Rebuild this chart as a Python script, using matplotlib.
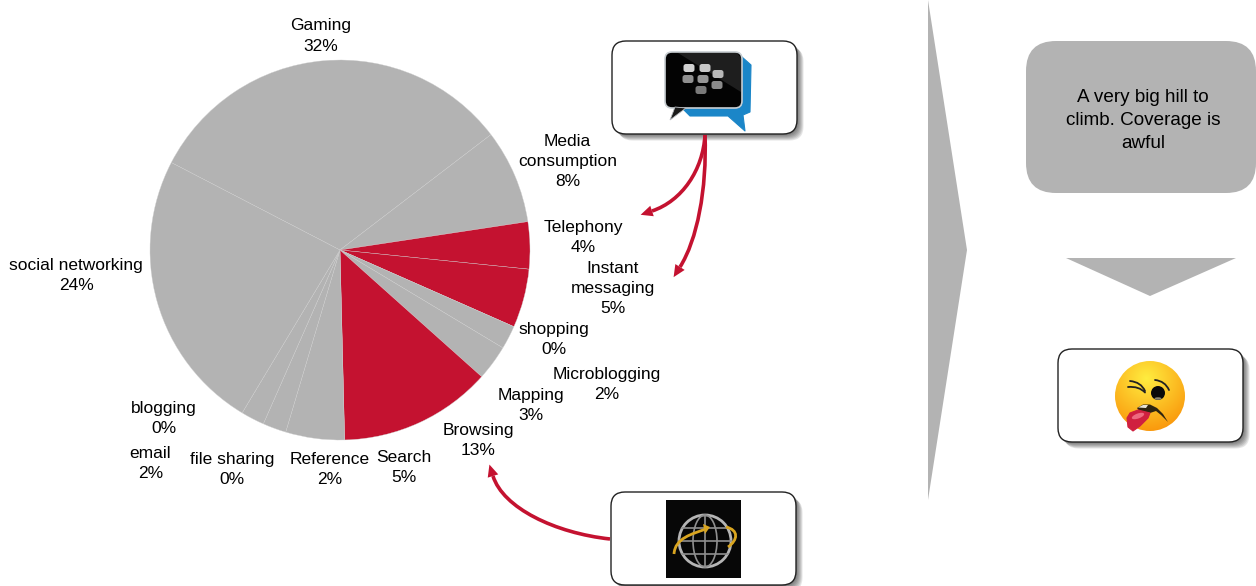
import numpy as np
import matplotlib
matplotlib.use("Agg")
import matplotlib.pyplot as plt
from matplotlib.patches import FancyBboxPatch, Polygon, Circle, Ellipse, PathPatch
from matplotlib.path import Path

plt.rcParams["font.family"] = ["Liberation Sans", "DejaVu Sans"]

GREY = "#b3b3b3"
RED = "#c41230"

# slices run clockwise, Gaming first
categories = ["Gaming", "Media\nconsumption", "Telephony", "Instant\nmessaging", "shopping",
              "Microblogging", "Mapping", "Browsing", "Search", "Reference", "file sharing",
              "email", "blogging", "social networking"]
shares = [32, 8, 4, 5, 0, 2, 3, 13, 5, 2, 0, 2, 0, 24]
highlighted = ["Telephony", "Instant\nmessaging", "Browsing"]

label_xy = [(321, 36), (567.5, 161.5), (583, 237.5), (613, 288.5), (554, 339.5), (607, 384.5), (531, 405.5),
            (478, 440.5), (404, 467.5), (330, 469.5), (232, 469.5), (150.5, 463.5), (163.5, 418.5), (76, 275.5)]

W, H = 1256, 586
fig = plt.figure(figsize=(W / 100, H / 100), dpi=100)

# pie on its own square axes, the rest on a pixel-sized overlay
cx, cy, r = 340, 250, 190
pie_ax = fig.add_axes([(cx - r) / W, 1 - (cy + r) / H, 2 * r / W, 2 * r / H])
colors = [RED if c in highlighted else GREY for c in categories]
pie_ax.pie(shares, colors=colors, startangle=152.6, counterclock=False, radius=1,
           wedgeprops=dict(edgecolor="#cfcfcf", linewidth=0.25))
pie_ax.set_xlim(-1, 1)
pie_ax.set_ylim(-1, 1)

ax = fig.add_axes([0, 0, 1, 1], facecolor="none")
ax.set_xlim(0, W)
ax.set_ylim(H, 0)
ax.axis("off")

for cat, val, (x, y) in zip(categories, shares, label_xy):
    ax.text(x, y, f"{cat}\n{val}%", ha="center", va="center", fontsize=12.5, color="black",
            linespacing=1.43)


def card(x0, y0, x1, y1):
    # soft shadow first, then the white box
    for i in range(7):
        off = 0.5 + i
        ax.add_patch(FancyBboxPatch((x0 + off, y0 + off), x1 - x0, y1 - y0,
                                    boxstyle="round,pad=0,rounding_size=14", fc="#222222", ec="none",
                                    alpha=0.12, zorder=2))
    ax.add_patch(FancyBboxPatch((x0, y0), x1 - x0, y1 - y0, boxstyle="round,pad=0,rounding_size=14",
                                fc="white", ec="#222222", lw=1.0, zorder=3))


card(612, 41, 797, 134)
card(611, 492, 796, 585)
card(1058, 349, 1243, 442)

# right-hand column
ax.add_patch(Polygon([(928, 0), (967, 250), (928, 500)], fc=GREY, ec="none"))
ax.add_patch(Polygon([(1066, 258), (1236, 258), (1150, 296)], fc=GREY, ec="none"))
ax.add_patch(FancyBboxPatch((1026, 41), 230, 152, boxstyle="round,pad=0,rounding_size=30", fc=GREY,
                            ec="none", clip_on=False))
ax.text(1143, 120.5, "A very big hill to\nclimb. Coverage is\nawful", ha="center", va="center",
        fontsize=13.6, color="black", linespacing=1.43)

# messenger icon
blue = [(680, 106), (690, 116), (728, 116), (745, 131), (743, 115), (750, 112), (751, 65), (742, 57)]
ax.add_patch(Polygon(blue, fc="#1b86c8", ec="#1b86c8", lw=0.8, joinstyle="round", zorder=4))
ax.add_patch(FancyBboxPatch((665, 52), 77, 56, boxstyle="round,pad=0,rounding_size=7", fc="#030303",
                            ec="#c8ced2", lw=1.2, zorder=5))
ax.add_patch(Polygon([(675, 107), (670, 120), (686, 108)], fc="#1a1a1a", ec="#b8bcc0", lw=0.6, zorder=5))
ax.add_patch(Polygon([(678, 53), (737, 53), (741, 58), (741, 92)], fc="#1e1e1e", ec="none", zorder=5))
for x, y, col in [(689, 68, "#d0d0d0"), (705, 68, "#c8c8c8"), (718, 74, "#b8b8b8"), (688, 79, "#8f8f8f"),
                  (703, 79, "#959595"), (717, 85, "#8a8a8a"), (701, 90, "#7a7a7a")]:
    ax.add_patch(FancyBboxPatch((x - 5.5, y - 4), 11, 8, boxstyle="round,pad=0,rounding_size=2.5", fc=col,
                                ec="none", zorder=6))

# globe icon
ax.add_patch(plt.Rectangle((666, 500), 75, 78, fc="#070707", ec="none", zorder=4))
gx, gy = 705, 541
ax.add_patch(Ellipse((gx, gy), 52, 52, fc="none", ec="#b5b5b5", lw=2, zorder=5))
ax.add_patch(Ellipse((gx, gy), 24, 52, fc="none", ec="#8f8f8f", lw=1.2, zorder=5))
ax.plot([gx, gx], [gy - 26, gy + 26], color="#8f8f8f", lw=1.2, zorder=5)
for dy in (-13, 0, 13):
    half = np.sqrt(26 ** 2 - dy ** 2)
    ax.plot([gx - half, gx + half], [gy + dy, gy + dy], color="#8f8f8f", lw=1.2, zorder=5)
swoosh = [Path.MOVETO, Path.CURVE4, Path.CURVE4, Path.CURVE4]
ax.add_patch(PathPatch(Path([(674, 554), (675, 538), (692, 534), (706, 529)], swoosh),
                       fc="none", ec="#d9a520", lw=2, zorder=6))
ax.add_patch(Polygon([(703, 524), (710, 527), (705, 534)], fc="#d9a520", ec="none", zorder=6))
ax.add_patch(PathPatch(Path([(726, 527), (739, 530), (738, 540), (728, 547)], swoosh),
                       fc="none", ec="#d9a520", lw=2, zorder=6))

# grimacing face, shaded disc plus features
fx, fy, fr = 1150, 396, 35
shade_y, shade_x = np.mgrid[-1:1:200j, -1:1:200j]
dist = np.hypot(shade_x + 0.1, shade_y + 0.5)
base = np.array([1.0, 0.93, 0.25])
edge = np.array([0.98, 0.6, 0.05])
t = np.clip(dist / 1.5, 0, 1)[..., None]
im = ax.imshow(base * (1 - t) + edge * t, extent=(fx - fr, fx + fr, fy + fr, fy - fr), zorder=5, aspect="auto")
im.set_clip_path(Circle((fx, fy), fr, transform=ax.transData))
ax.set_xlim(0, W)
ax.set_ylim(H, 0)


def stroke(points, lw, color="#222222", z=6):
    # quadratic bend through the middle point
    ax.add_patch(PathPatch(Path(points, [Path.MOVETO, Path.CURVE3, Path.CURVE3]), fc="none", ec=color,
                           lw=lw, capstyle="round", zorder=z))


ax.add_patch(Circle((1158, 393), 7, fc="#0a0a0a", ec="none", zorder=6))
ax.add_patch(Ellipse((1158, 398.5), 7, 2.5, fc="#8a8570", ec="none", zorder=6))
stroke([(1130, 381), (1141, 382), (1145, 391)], 1.3)
stroke([(1128, 387), (1139, 386), (1145, 392.5)], 1.3)
stroke([(1155, 380), (1165, 381), (1169, 390)], 1.3)
mouth = [(1137, 408), (1143, 404.5), (1150, 404.5), (1157, 408), (1163, 414), (1168, 422),
         (1161, 415), (1156, 411), (1150, 413), (1140, 412)]
ax.add_patch(Polygon(mouth, fc="#2e2410", ec="none", zorder=6))
ax.add_patch(Polygon([(1138, 407.5), (1143, 405), (1148, 405), (1146, 408)], fc="#e8e4d8", ec="none", zorder=6))
tongue = [(1127, 418), (1130, 413), (1138, 410), (1150, 413), (1148, 418), (1140, 426), (1133, 431), (1128, 427)]
ax.add_patch(Polygon(tongue, closed=True, fc="#d0203f", ec="#d0203f", lw=0.8, joinstyle="round", zorder=7))
ax.add_patch(Ellipse((1138, 416), 13, 5, angle=-20, fc="#ee6a80", ec="none", zorder=7))


def curved_arrow(p0, p1, p2, p3, head_len=12, head_w=11):
    # bezier shaft ending at p3, triangular head pointing along the end tangent
    d = np.subtract(p3, p2, dtype=float)
    d /= np.hypot(*d)
    n = np.array([-d[1], d[0]])
    tip = np.array(p3) + d * head_len
    ax.add_patch(PathPatch(Path([p0, p1, p2, p3], [Path.MOVETO, Path.CURVE4, Path.CURVE4, Path.CURVE4]),
                           fc="none", ec=RED, lw=2.6, zorder=4, capstyle="butt"))
    ax.add_patch(Polygon([tip, np.array(p3) + n * head_w / 2, np.array(p3) - n * head_w / 2], fc=RED, ec="none", zorder=4))


curved_arrow((705, 135), (703, 170), (682, 201), (652, 211))
curved_arrow((705, 135), (707, 190), (697, 240), (680, 267))
curved_arrow((610, 539), (555, 533), (503, 508), (493, 476))

fig.savefig("out.png", dpi=100)
